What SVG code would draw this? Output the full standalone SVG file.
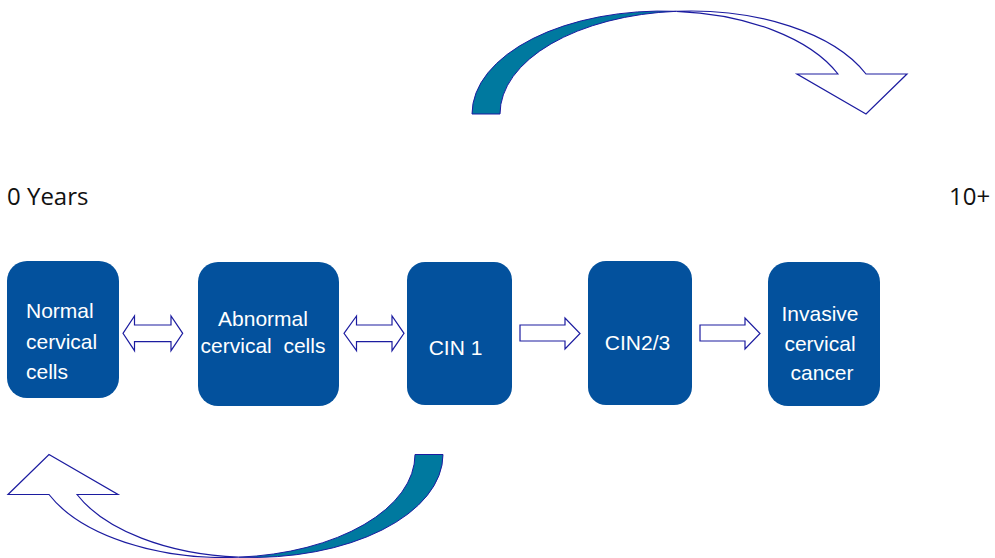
<svg xmlns="http://www.w3.org/2000/svg" width="995" height="558" viewBox="0 0 995 558">
<defs>
<style>
.box{fill:#03519d;}
.lbl{font-family:"Liberation Sans",Arial,sans-serif;font-size:21px;fill:#ffffff;white-space:pre;}
.axis{font-family:"Open Sans","Noto Sans",sans-serif;font-size:24px;fill:#111111;}
.arr{fill:#ffffff;stroke:#1c1ca0;stroke-width:1.2;stroke-linejoin:miter;}
.teal{fill:#00799f;stroke:#1c1ca0;stroke-width:1;}
</style>
<g id="curved-arrow-shape">
<path class="teal" d="M472 114 A190.5 103 0 0 1 676.5 11.3 A190.5 103 0 0 0 500 114 Z"/>
<path class="arr" d="M676.5 11.3 A190.5 103 0 0 1 866 74 L907 74 L866 114 L797 74 L838 74 A190.5 103 0 0 0 676.5 11.3 Z"/>
</g>
</defs>
<rect width="995" height="558" fill="#ffffff"/>
<g id="connectors">
<use id="curve-top" href="#curved-arrow-shape"/>
<use id="curve-bottom" href="#curved-arrow-shape" transform="rotate(180 457.5 284.25)"/>
<path class="arr" d="M123 333.3 L134.5 316 L134.5 325 L171 325 L171 316 L182.7 333.3 L171 350.7 L171 341.7 L134.5 341.7 L134.5 350.7 Z"/>
<path class="arr" d="M344 333.3 L356.5 316 L356.5 325 L392 325 L392 316 L404 333.3 L392 350.7 L392 341.7 L356.5 341.7 L356.5 350.7 Z"/>
<path class="arr" d="M520 325 L565 325 L565 318 L580 333.5 L565 349 L565 341 L520 341 Z"/>
<path class="arr" d="M700 325 L745 325 L745 318 L760 333.5 L745 349 L745 341 L700 341 Z"/>
</g>
<g id="node-normal">
<rect class="box" x="7" y="261" width="112" height="137" rx="20"/>
<text class="lbl" x="26" y="318">Normal</text>
<text class="lbl" x="26" y="349">cervical</text>
<text class="lbl" x="26" y="379">cells</text>
</g>
<g id="node-abnormal">
<rect class="box" x="198" y="262" width="141" height="144" rx="20"/>
<text class="lbl" x="263" y="326" text-anchor="middle">Abnormal</text>
<text class="lbl" x="263" y="353" text-anchor="middle">cervical  cells</text>
</g>
<g id="node-cin1">
<rect class="box" x="407" y="262" width="105" height="143" rx="18"/>
<text class="lbl" x="455.5" y="355" text-anchor="middle">CIN 1</text>
</g>
<g id="node-cin23">
<rect class="box" x="588" y="261" width="104" height="144" rx="18"/>
<text class="lbl" x="637.5" y="350" text-anchor="middle">CIN2/3</text>
</g>
<g id="node-invasive">
<rect class="box" x="768" y="262" width="112" height="144" rx="20"/>
<text class="lbl" x="820" y="321" text-anchor="middle">Invasive</text>
<text class="lbl" x="820" y="351" text-anchor="middle">cervical</text>
<text class="lbl" x="822" y="380" text-anchor="middle">cancer</text>
</g>
<g id="axis-labels">
<text class="axis" x="7" y="205">0 Years</text>
<text class="axis" x="949" y="205">10+</text>
</g>
</svg>
